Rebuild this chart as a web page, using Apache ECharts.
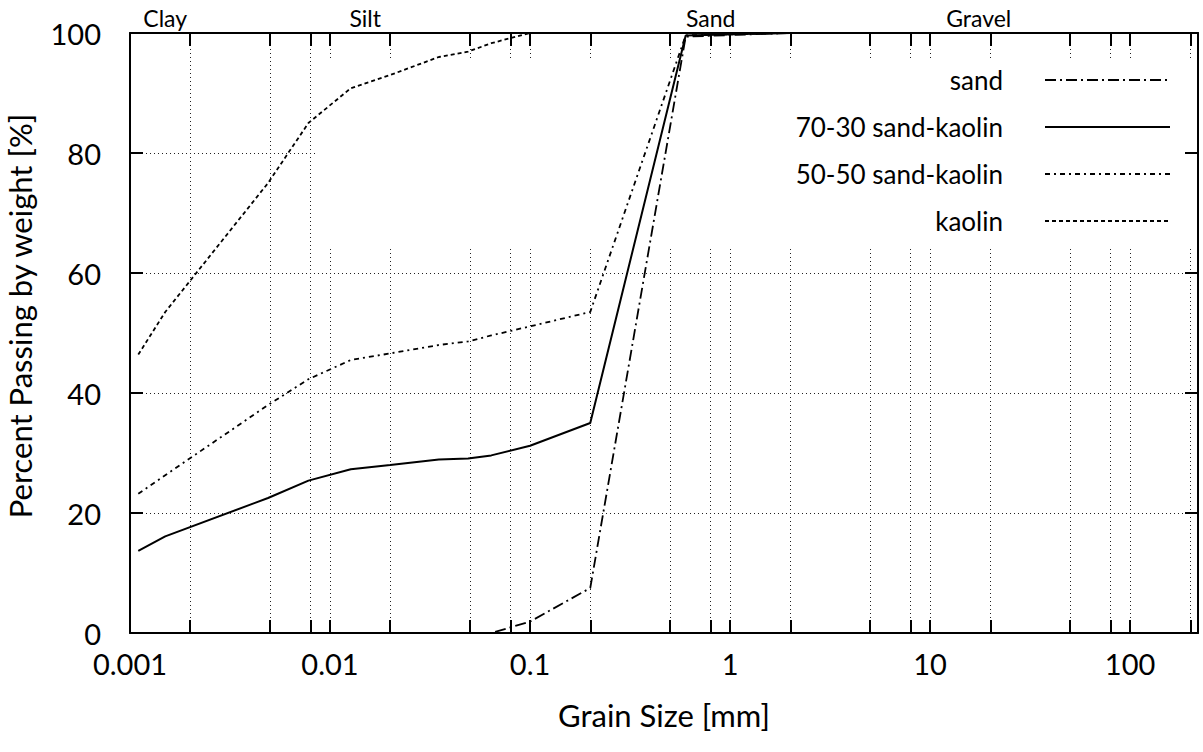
<!DOCTYPE html>
<html><head><meta charset="utf-8">
<script src="https://cdn.jsdelivr.net/npm/echarts@6/dist/echarts.min.js"></script>
<style>html,body{margin:0;padding:0;background:#fff}#c{width:1203px;height:752px}</style>
</head><body><div id="c"></div>
<script>
// ---- data ----
const grainSize = [0.0011, 0.0015, 0.0049, 0.0078, 0.0127, 0.02, 0.035, 0.049, 0.064, 0.1, 0.2, 0.6, 2];
const sand    = [0, 0, 0, 0, 0, 0, 0, 0, 0, 1.9, 7.5, 99.4, 100];
const sk7030  = [13.7, 16.1, 22.5, 25.4, 27.3, 28.0, 28.9, 29.1, 29.6, 31.2, 35.0, 99.6, 100];
const sk5050  = [23.2, 26.3, 38.0, 42.3, 45.5, 46.6, 48.0, 48.6, 49.6, 51.1, 53.5, 99.6, 100];
const kaolin  = [46.4, 53.5, 75.0, 85.0, 90.8, 93.0, 96.0, 96.9, 98.3, 100, 100, 100, 100];
const seriesNames = ['sand', '70-30 sand-kaolin', '50-50 sand-kaolin', 'kaolin'];
const xTickValues = [0.001, 0.002, 0.005, 0.008, 0.01, 0.02, 0.05, 0.08, 0.1, 0.2, 0.5, 0.8, 1, 2, 5, 8, 10, 20, 50, 80, 100, 200];
const xLabelValues = [0.001, 0.01, 0.1, 1, 10, 100];
const zoneNames = ['Clay', 'Silt', 'Sand', 'Gravel'];
const zoneCenters = [0.0015, 0.015, 0.8, 17.5];
const xTitle = 'Grain Size [mm]';
const yTitle = 'Percent Passing by weight [%]';

// ---- styling / layout ----
const FONT = 'Lato';
const X_MIN = 0.001, X_MAX = 218.5;
const keyMask = { x0: 0.0085, x1: X_MAX, y0: 64.3, y1: 95.8 };
const gridLine = { show: true, lineStyle: { color: '#222', width: 1, type: [1, 3] } };
const axisLine = { show: true, onZero: false, lineStyle: { color: '#000', width: 2 } };
const tick = (vals) => ({ show: true, inside: true, length: 13, customValues: vals, lineStyle: { color: '#000', width: 2 } });
const styles = [
  { width: 1.8, type: [11, 4, 2, 4] },
  { width: 2.0, type: 'solid' },
  { width: 1.8, type: [5, 4, 2, 4] },
  { width: 1.8, type: [4, 3] }
];
const values = [sand, sk7030, sk5050, kaolin];

function fmtNum(v) { return String(+(+v).toPrecision(6)); }
function zoneLabel(v) {
  let best = 0, bd = Infinity;
  zoneCenters.forEach((c, i) => { const d = Math.abs(Math.log10(v) - Math.log10(c)); if (d < bd) { bd = d; best = i; } });
  return zoneNames[best];
}

const chart = echarts.init(document.getElementById('c'), null, { renderer: 'svg' });
chart.setOption({
  animation: false,
  backgroundColor: '#fff',
  textStyle: { fontFamily: FONT, color: '#000' },
  grid: { left: 130, right: 5, top: 33, bottom: 119, containLabel: false, outerBoundsMode: 'none' },
  legend: {
    orient: 'vertical', right: 27, top: 61, align: 'right',
    itemWidth: 125, itemHeight: 14, itemGap: 19, selectedMode: false,
    itemStyle: { opacity: 0 },
    textStyle: { fontFamily: FONT, fontSize: 26, color: '#000', lineHeight: 28, padding: [0, 37, 0, 0] },
    data: seriesNames
  },
  xAxis: [
    {
      type: 'log', logBase: 10, min: X_MIN, max: X_MAX, position: 'bottom',
      axisLine: axisLine, axisTick: tick(xTickValues),
      splitLine: gridLine, minorTick: { show: false }, minorSplitLine: { show: false },
      axisLabel: { customValues: xLabelValues, formatter: fmtNum, fontSize: 29, lineHeight: 29, fontFamily: FONT, color: '#000', margin: 16 },
      name: xTitle, nameLocation: 'middle', nameGap: 66, nameMoveOverlap: false,
      nameTextStyle: { fontFamily: FONT, fontSize: 31, color: '#000' }
    },
    {
      type: 'log', logBase: 10, min: X_MIN, max: X_MAX, position: 'top', z: 3,
      axisLine: axisLine, axisTick: tick(xTickValues),
      splitLine: { show: false }, minorTick: { show: false },
      axisLabel: { customValues: zoneCenters, formatter: zoneLabel, fontSize: 23, fontFamily: FONT, color: '#000', margin: 4 }
    }
  ],
  yAxis: [
    {
      type: 'value', min: 0, max: 100, interval: 20, position: 'left',
      axisLine: axisLine, axisTick: { show: true, inside: true, length: 13, lineStyle: { color: '#000', width: 2 } },
      splitLine: gridLine,
      axisLabel: { fontSize: 29, lineHeight: 29, fontFamily: FONT, color: '#000', margin: 29 },
      name: yTitle, nameLocation: 'middle', nameGap: 95, nameMoveOverlap: false,
      nameTextStyle: { fontFamily: FONT, fontSize: 31, color: '#000', padding: [0, 0, 0, 34] }
    },
    {
      type: 'value', min: 0, max: 100, interval: 20, position: 'right', z: 3,
      axisLine: axisLine, axisTick: { show: true, inside: true, length: 13, lineStyle: { color: '#000', width: 2 } },
      splitLine: { show: false }, axisLabel: { show: false }
    }
  ],
  series: seriesNames.map((name, i) => {
    const s = {
      name: name, type: 'line', xAxisIndex: 0, yAxisIndex: 0,
      symbol: 'none', showSymbol: false, silent: true,
      data: grainSize.map((x, k) => [x, values[i][k]]),
      lineStyle: { color: '#000', width: styles[i].width, type: styles[i].type, cap: 'butt' },
      itemStyle: { color: '#000' },
      emphasis: { disabled: true }
    };
    if (i === 3) {
      s.markArea = {
        silent: true, itemStyle: { color: '#fff', borderWidth: 0 }, label: { show: false },
        data: [[{ coord: [keyMask.x0, keyMask.y1] }, { coord: [keyMask.x1, keyMask.y0] }]]
      };
    }
    return s;
  })
});
</script></body></html>
